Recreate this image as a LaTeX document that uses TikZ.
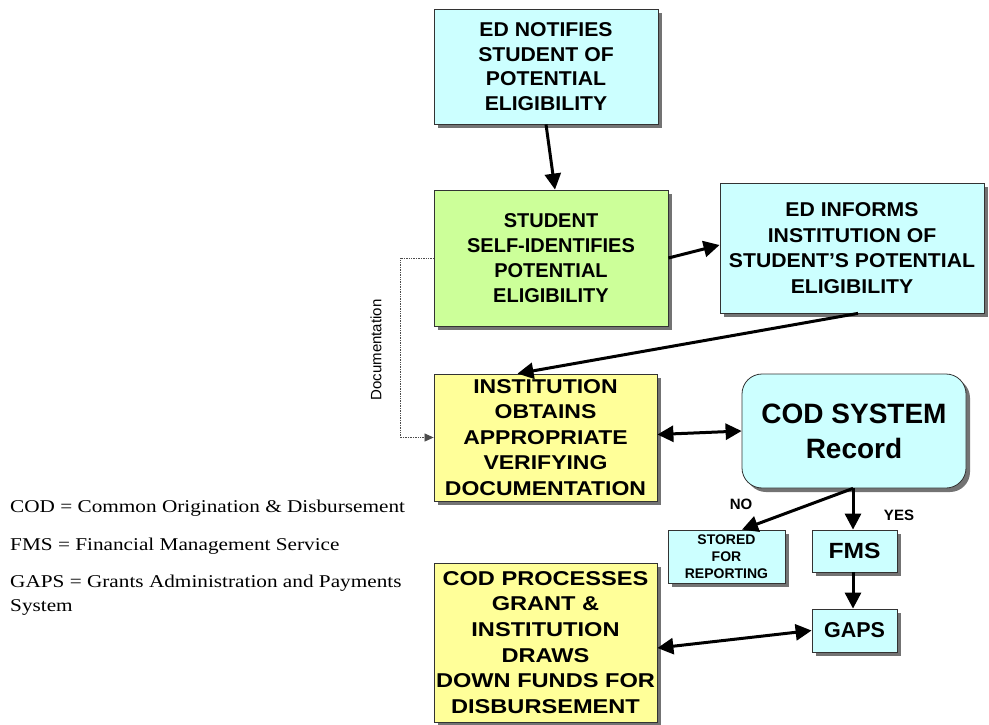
\documentclass[tikz,border=0pt]{standalone}
\usepackage{fontspec}
\setmainfont[FakeStretch=1.18]{Liberation Serif}
\newfontfamily\arial{Liberation Sans}
\newfontfamily\arialA[FakeStretch=1.06]{Liberation Sans}
\newfontfamily\arialB[FakeStretch=1.15]{Liberation Sans}
\newfontfamily\arialC[FakeStretch=1.18]{Liberation Sans}
\newfontfamily\arialD[FakeStretch=1.12]{Liberation Sans}
\usetikzlibrary{arrows.meta,shadows,calc}
\definecolor{cyanf}{HTML}{CCFFFF}
\definecolor{greenf}{HTML}{CCFF99}
\definecolor{yellowf}{HTML}{FFFF99}
\tikzset{
  box/.style={draw=black!80, line width=0.8pt, align=center, inner sep=0pt,
    font=\arial\bfseries\fontsize{20}{25}\selectfont,
    drop shadow={shadow xshift=4pt, shadow yshift=-4pt, fill=black!55, opacity=1}},
  arr/.style={line width=3pt, -{Triangle[length=16pt,width=16pt]}},
  darr/.style={line width=3pt, {Triangle[length=16pt,width=16pt]}-{Triangle[length=16pt,width=16pt]}},
  legend/.style={anchor=west, inner sep=0pt, font=\fontsize{18}{24}\selectfont, align=left},
  lbl/.style={font=\arial\bfseries\fontsize{15}{17}\selectfont, inner sep=0pt}
}
\begin{document}
\begin{tikzpicture}[x=1pt,y=-1pt]
\useasboundingbox[fill=white] (0,0) rectangle (989,725);
\node[box, fill=cyanf, minimum width=224pt, minimum height=115pt,
  font=\arialA\bfseries\fontsize{20}{24.7}\selectfont] (n1) at (546,66.5)
  {ED NOTIFIES\\STUDENT OF\\POTENTIAL\\ELIGIBILITY};
\node[box, fill=greenf, minimum width=234pt, minimum height=136pt] (n2) at (551,258)
  {STUDENT\\SELF-IDENTIFIES\\POTENTIAL\\ELIGIBILITY};
\node[box, fill=cyanf, minimum width=264pt, minimum height=130pt,
  font=\arialA\bfseries\fontsize{20}{25.5}\selectfont] (n3) at (852,248)
  {ED INFORMS\\INSTITUTION OF\\STUDENT’S POTENTIAL\\ELIGIBILITY};
\node[box, fill=yellowf, minimum width=223pt, minimum height=127pt,
  font=\arialB\bfseries\fontsize{20}{25.5}\selectfont] (n4) at (545.5,437.5)
  {INSTITUTION\\OBTAINS\\APPROPRIATE\\VERIFYING\\DOCUMENTATION};
\node[box, fill=cyanf, minimum width=224pt, minimum height=114pt, rounded corners=20pt,
  font=\arial\bfseries\fontsize{28}{35}\selectfont] (n5) at (854,431)
  {COD SYSTEM\\Record};
\node[box, fill=cyanf, minimum width=117pt, minimum height=53pt,
  font=\arial\bfseries\fontsize{14}{17}\selectfont] (n6) at (726.5,556.5)
  {STORED\\FOR\\REPORTING};
\node[box, fill=cyanf, minimum width=85pt, minimum height=42pt,
  font=\arialD\bfseries\fontsize{22}{24}\selectfont] (n7) at (854.5,551) {FMS};
\node[box, fill=cyanf, minimum width=85pt, minimum height=43pt,
  font=\arial\bfseries\fontsize{21.5}{24}\selectfont] (n8) at (854.5,630.5) {GAPS};
\node[box, fill=yellowf, minimum width=223pt, minimum height=159pt,
  font=\arialC\bfseries\fontsize{20}{25.6}\selectfont] (n9) at (545.5,642.5)
  {COD PROCESSES\\GRANT \&\\INSTITUTION\\DRAWS\\DOWN FUNDS FOR\\DISBURSEMENT};
% connectors
\draw[arr] (n1.south) -- ([xshift=4pt]n2.north);
\draw[arr] (n2.east) -- ([yshift=3pt]n3.west);
\draw[arr] ([xshift=6pt]n3.south) -- ([xshift=-28pt]n4.north);
\draw[darr] ([yshift=3pt]n4.east) -- (n5.west);
\draw[arr] ([xshift=-1pt]n5.south) -- ([xshift=15.5pt]n6.north);
\draw[arr] ([xshift=-1pt]n5.south) -- ([xshift=-1.5pt]n7.north);
\draw[arr] ([xshift=-1.5pt]n7.south) -- ([xshift=-1.5pt]n8.north);
\draw[darr] (n8.west) -- ([yshift=-5.5pt]n9.east);
\coordinate (dl) at (400,258);
\draw[black!70, densely dotted, line width=0.7pt, -{Triangle[length=9pt,width=8pt]}]
  (n2.west) -- (dl) |- (n4.west);
\node[font=\arial\fontsize{15}{17}\selectfont, rotate=90, inner sep=0pt] (doc) at (376,350) {Documentation};
\node[lbl] (no) at (741,504) {NO};
\node[lbl] (yes) at (899,515) {YES};
% legend
\node[legend] (l1) at (10,508) {COD = Common Origination \& Disbursement};
\node[legend] (l2) at (10,546) {FMS = Financial Management Service};
\node[legend] (l3) at (10,595) {GAPS = Grants Administration and Payments\\System};
\end{tikzpicture}
\end{document}
